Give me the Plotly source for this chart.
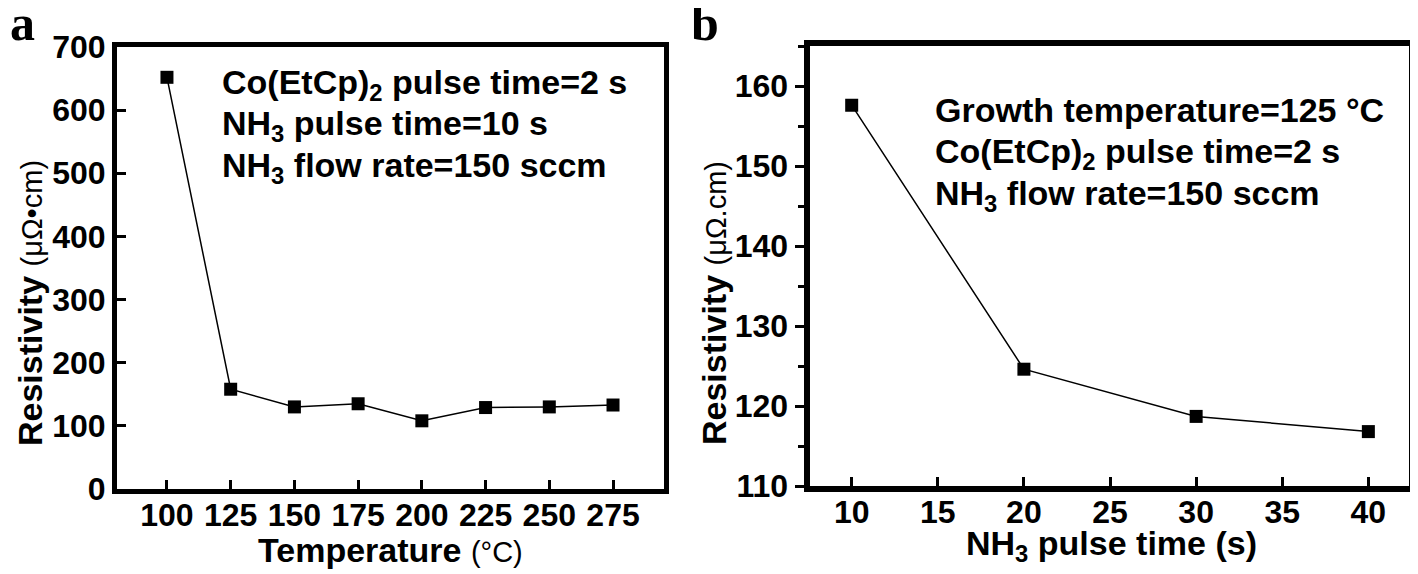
import plotly.graph_objects as go

# ---- data ----
temp_c = [100, 125, 150, 175, 200, 225, 250, 275]
res_temp = [652, 158, 130, 135, 108, 129, 130, 133]

nh3_pulse_s = [10, 20, 30, 40]
res_pulse = [157.6, 124.6, 118.7, 116.8]

x_ticks_a = [100, 125, 150, 175, 200, 225, 250, 275]
y_ticks_a = [0, 100, 200, 300, 400, 500, 600, 700]
x_ticks_b = [10, 15, 20, 25, 30, 35, 40]
y_ticks_b = [110, 120, 130, 140, 150, 160]

W, H = 1418, 574
OFF = 8  # page body margin in the browser


def px(x):
    return (x - OFF) / W


def py(y):
    return 1 - (y - OFF) / H


fig = go.Figure()
fig.add_trace(go.Scatter(x=temp_c, y=res_temp, mode="lines+markers",
                         line=dict(color="black", width=1.5),
                         marker=dict(symbol="square", size=13, color="black"),
                         xaxis="x", yaxis="y", showlegend=False))
fig.add_trace(go.Scatter(x=nh3_pulse_s, y=res_pulse, mode="lines+markers",
                         line=dict(color="black", width=1.5),
                         marker=dict(symbol="square", size=13, color="black"),
                         xaxis="x2", yaxis="y2", showlegend=False))

tickfont = dict(family="Liberation Sans, Arial, sans-serif", size=32, color="black", weight="bold")

common = dict(showgrid=False, zeroline=False, tickfont=tickfont, automargin=False,
              tickcolor="black", linecolor="black", showline=True, mirror=True)

fig.update_layout(
    template="none",
    width=W, height=H, autosize=False,
    margin=dict(l=0, r=0, t=0, b=0, pad=0, autoexpand=False),
    paper_bgcolor="white", plot_bgcolor="white",
    xaxis=dict(domain=[px(117), px(664)], range=[80.4, 295], tickvals=x_ticks_a,
               ticks="inside", ticklen=9, tickwidth=3, linewidth=5, anchor="y",
               ticklabelstandoff=-6, **common),
    yaxis=dict(domain=[py(489), py(47)], range=[0, 700], tickvals=y_ticks_a,
               ticks="inside", ticklen=9, tickwidth=3, linewidth=5, anchor="x", **common),
    xaxis2=dict(domain=[px(809.5), px(1409)], range=[7.55, 42.36], tickvals=x_ticks_b,
                ticks="inside", ticklen=9, tickwidth=3, linewidth=6, anchor="y2",
                ticklabelstandoff=-7, **common),
    yaxis2=dict(domain=[py(486), py(46)], range=[110, 165], tickvals=y_ticks_b,
                ticks="outside", ticklen=9, tickwidth=3, linewidth=6, anchor="x2",
                minor=dict(dtick=5, ticks="outside", ticklen=6, tickwidth=3, tickcolor="black"),
                **common),
)

bold = dict(family="Liberation Sans, Arial, sans-serif", size=34, color="black", weight="bold")
normal_span = "font-weight:normal;font-size:29px"

anns = []
# panel letters
letter_font = dict(family="Liberation Serif, Times New Roman, serif", size=50, color="black", weight="bold")
anns.append(dict(x=px(8), y=py(23), text="a", xanchor="left", yanchor="middle", font=letter_font))
anns.append(dict(x=px(689), y=py(23), text="b", xanchor="left", yanchor="middle", font=letter_font))

# panel a conditions
for txt, yy in [("Co(EtCp)<sub>2</sub> pulse time=2 s", 84),
                ("NH<sub>3</sub> pulse time=10 s", 126),
                ("NH<sub>3</sub> flow rate=150 sccm", 168)]:
    anns.append(dict(x=px(220), y=py(yy), text=txt, xanchor="left", yanchor="middle", font=bold))
# panel b conditions
for txt, yy in [("Growth temperature=125 °C", 110),
                ("Co(EtCp)<sub>2</sub> pulse time=2 s", 153),
                ("NH<sub>3</sub> flow rate=150 sccm", 196)]:
    anns.append(dict(x=px(933), y=py(yy), text=txt, xanchor="left", yanchor="middle", font=bold))

# axis titles
anns.append(dict(x=px(30), y=py(303), textangle=-90, xanchor="center", yanchor="middle",
                 text=f"Resistivity <span style='{normal_span}'>(μΩ•cm)</span>", font=bold))
anns.append(dict(x=px(714), y=py(303), textangle=-90, xanchor="center", yanchor="middle",
                 text=f"Resistivity <span style='{normal_span}'>(μΩ.cm)</span>", font=bold))
anns.append(dict(x=px(390), y=py(550), xanchor="center", yanchor="middle",
                 text=f"Temperature <span style='{normal_span}'>(°C)</span>", font=bold))
anns.append(dict(x=px(1111), y=py(545), xanchor="center", yanchor="middle",
                 text="NH<sub>3</sub> pulse time (s)", font=bold))

for a in anns:
    a.update(xref="paper", yref="paper", showarrow=False)
fig.update_layout(annotations=anns)

fig.write_html("out.html")
